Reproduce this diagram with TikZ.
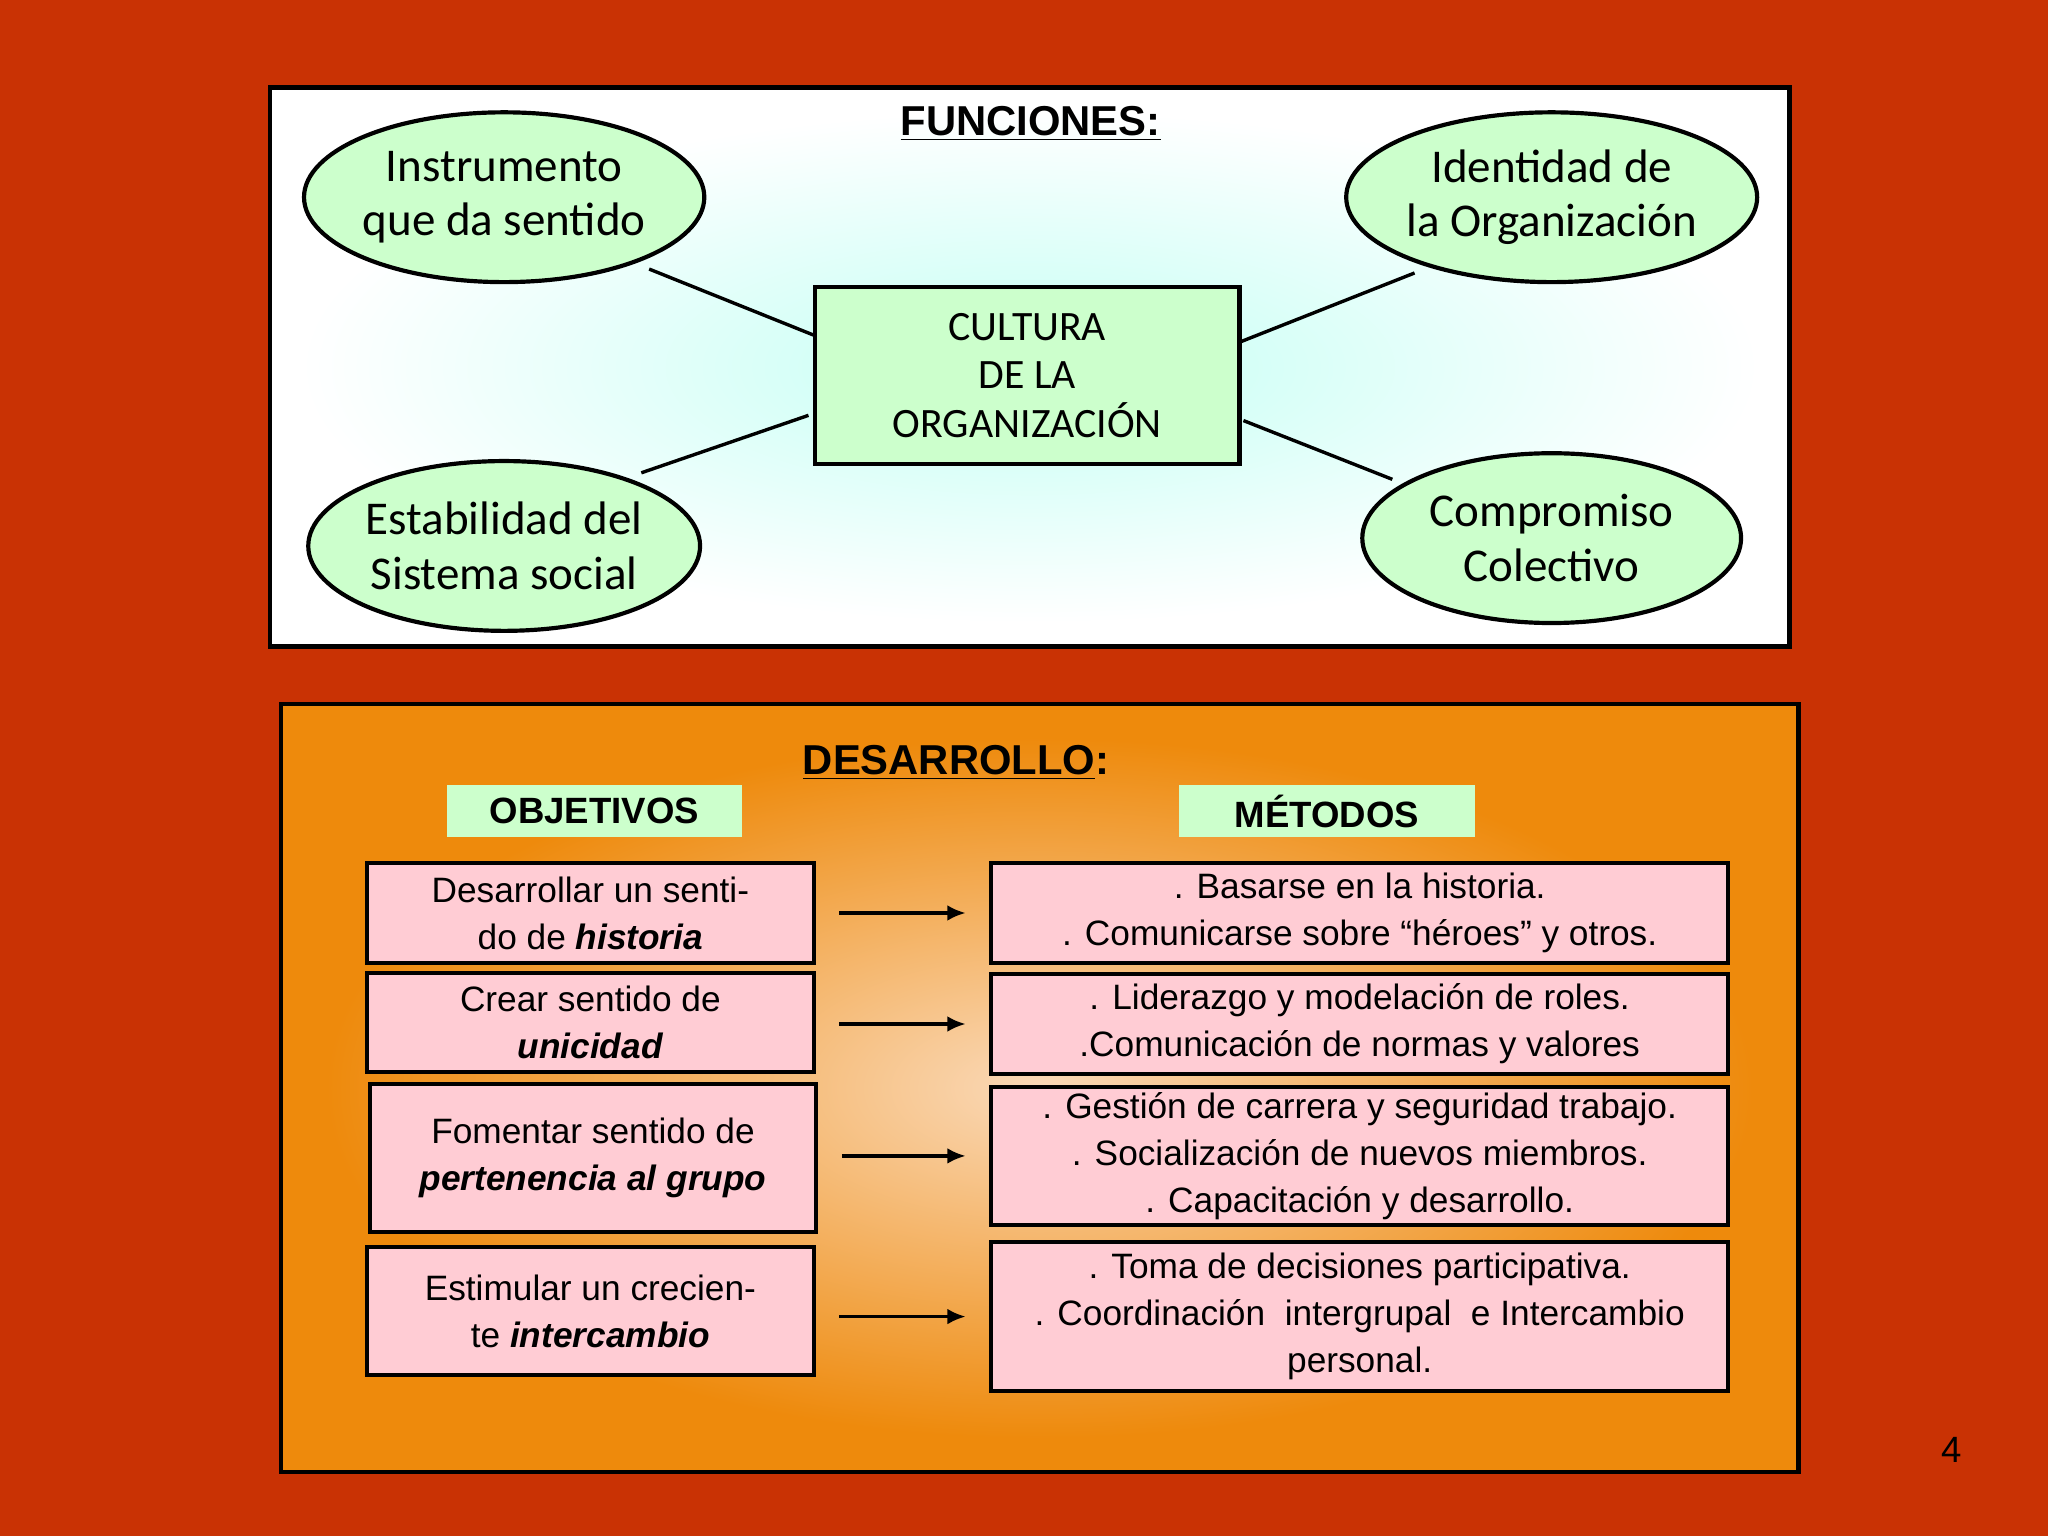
\documentclass[tikz,border=0pt]{standalone}
\usepackage{fontspec}
\setmainfont{Liberation Sans}
\newfontfamily\calib{Carlito}
\usetikzlibrary{shapes.geometric,arrows.meta,calc}
\definecolor{bgred}{HTML}{C93204}
\definecolor{lgreen}{HTML}{CCFFCC}
\definecolor{lpink}{HTML}{FFCCD4}
\definecolor{lcyan}{HTML}{C4FFF4}
\definecolor{orng}{HTML}{EE8A0C}
\definecolor{peach}{HTML}{FAD9B8}
\begin{document}
\begin{tikzpicture}[x=0.5pt,y=-0.5pt,
  ell/.style={ellipse,draw,line width=1.6pt,fill=lgreen,minimum width=145pt,minimum height=65pt,align=center,font=\calib\fontsize{18}{21}\selectfont,inner sep=0pt},
  obj/.style={draw,line width=1.6pt,fill=lpink,align=center,font=\fontsize{13.5}{18}\selectfont,inner sep=0pt},
  lab/.style={fill=lgreen,minimum width=113pt,minimum height=20pt,font=\bfseries\fontsize{14}{16}\selectfont,inner sep=0pt},
  conn/.style={line width=1.3pt},
  arr/.style={line width=1.3pt,-{Latex[length=7pt,width=6pt]}}]
\useasboundingbox (0,0) rectangle (1568,1176);
\fill[bgred] (0,0) rectangle (1568,1176);
% top panel
\fill[white] (207,67) rectangle (1370,495);
\shade[inner color=lcyan,outer color=white] (230,85) rectangle (1347,477);
\draw[line width=1.6pt] (207,67) rectangle (1370,495);
\node[font=\bfseries\fontsize{16}{18}\selectfont] (fun) at (789,95) {\underline{FUNCIONES:}};
\node[ell] (e1) at (386,151) {Instrumento\\que da sentido};
\node[ell] (e2) at (1188,151) {Identidad de\\la Organización};
\node[ell] (e3) at (386,418) {Estabilidad del\\Sistema social};
\node[ell] (e4) at (1188,412) {Compromiso\\Colectivo};
\node[draw,line width=1.6pt,fill=lgreen,minimum width=162.5pt,minimum height=67.5pt,align=center,font=\calib\fontsize{16}{18.5}\selectfont,inner sep=0pt] (c) at (786.5,287.5) {CULTURA\\DE LA\\ORGANIZACIÓN};
\coordinate (c1) at (624,257); \coordinate (c2) at (619,318);
\coordinate (c3) at (949,262); \coordinate (c4) at (952,322);
\coordinate (a1) at (497,206); \coordinate (a3) at (491,362);
\coordinate (a2) at (1083,209); \coordinate (a4) at (1066,367);
\draw[conn] (a1) -- (c1); \draw[conn] (a3) -- (c2);
\draw[conn] (a2) -- (c3); \draw[conn] (a4) -- (c4);
% bottom panel
\fill[orng] (215,539) rectangle (1377,1127);
\shade[inner color=peach,outer color=orng] (250,565) rectangle (1342,1101);
\draw[line width=1.6pt] (215,539) rectangle (1377,1127);
\node[font=\bfseries\fontsize{16}{18}\selectfont] (des) at (732,584) {\underline{DESARROLLO}:};
\node[lab] (ob) at (455,621) {OBJETIVOS};
\node[lab] (me) at (1016,621) {MÉTODOS};
\node[obj,minimum width=171pt,minimum height=38pt] (l1) at (452,699) {Desarrollar un senti-\\do de \textbf{\textit{historia}}};
\node[obj,minimum width=171pt,minimum height=38pt] (l2) at (452,783) {Crear sentido de\\\textbf{\textit{unicidad}}};
\node[obj,minimum width=171pt,minimum height=56.5pt] (l3) at (454,886.5) {Fomentar sentido de\\\textbf{\textit{pertenencia al grupo}}};
\node[obj,minimum width=171pt,minimum height=49pt] (l4) at (452,1004) {Estimular un crecien-\\te \textbf{\textit{intercambio}}};
\node[obj,minimum width=282pt,minimum height=38pt] (r1) at (1041,699) {. Basarse en la historia.\\. Comunicarse sobre “héroes” y otros.};
\node[obj,minimum width=282pt,minimum height=38pt] (r2) at (1041,784) {. Liderazgo y modelación de roles.\\.Comunicación de normas y valores};
\node[obj,minimum width=282pt,minimum height=53pt] (r3) at (1041,885) {. Gestión de carrera y seguridad trabajo.\\. Socialización de nuevos miembros.\\. Capacitación y desarrollo.};
\node[obj,minimum width=282pt,minimum height=57pt] (r4) at (1041,1008) {. Toma de decisiones participativa.\\. Coordinación\ \ intergrupal\ \ e Intercambio\\personal.};
\foreach \i in {1,2,3,4}{\draw[arr,shorten <=9pt,shorten >=9pt] (l\i.east |- r\i) -- (r\i.west);}
\node[font=\fontsize{14}{16}\selectfont] (pg) at (1494,1110) {4};
\end{tikzpicture}
\end{document}
